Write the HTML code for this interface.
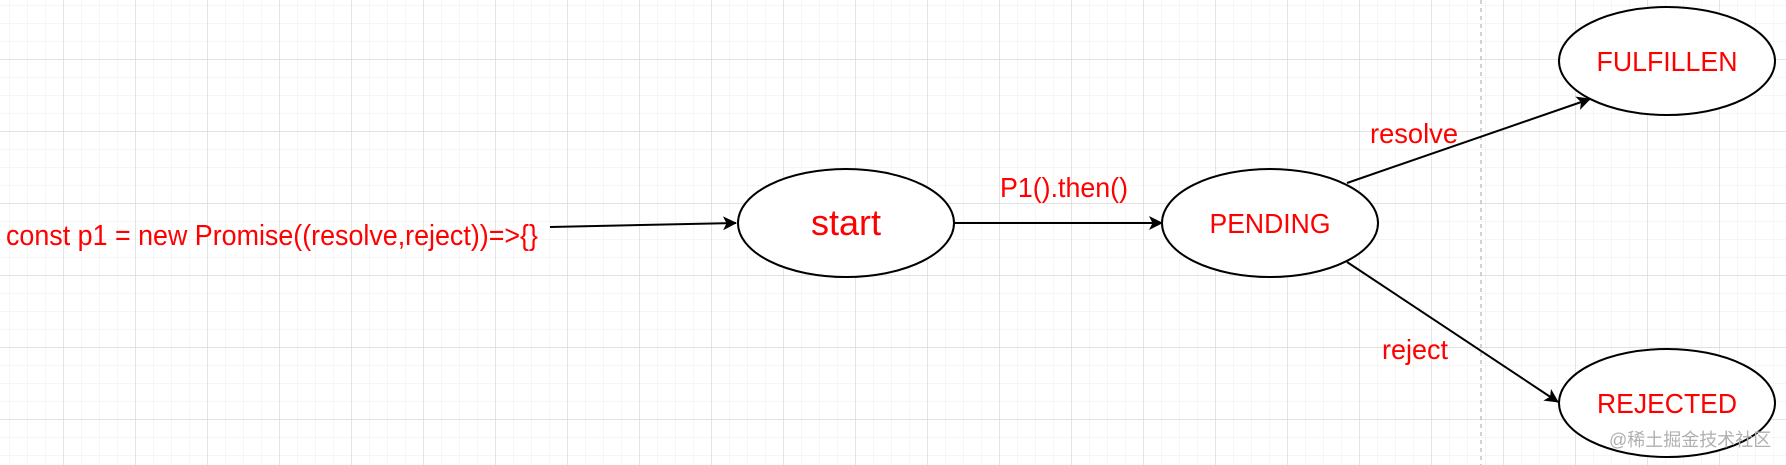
<!DOCTYPE html>
<html><head><meta charset="utf-8"><style>
html,body{margin:0;padding:0;background:#fff;}
svg{display:block;}
text{font-family:"Liberation Sans",Arial,sans-serif;fill:#ff0000;}
</style></head><body>
<svg width="1786" height="465" viewBox="0 0 1786 465" xmlns="http://www.w3.org/2000/svg">
<defs>
<pattern id="minor" x="9" y="5" width="18" height="18" patternUnits="userSpaceOnUse">
<path d="M0 0V18M0 0H18" stroke="#f0f0f0" stroke-width="1.2" fill="none"/>
</pattern>
<pattern id="major" x="63" y="59" width="72" height="72" patternUnits="userSpaceOnUse">
<path d="M0 0V72M0 0H72" stroke="#d4d4d4" stroke-width="1.2" fill="none"/>
</pattern>
<marker id="ar" viewBox="0 0 14 14" refX="13" refY="7" markerWidth="14" markerHeight="14" markerUnits="userSpaceOnUse" orient="auto">
<path d="M0 0L14 7L0 14L3.5 7Z" fill="#000"/>
</marker>
</defs>
<rect width="1786" height="465" fill="#fff"/>
<rect width="1786" height="465" fill="url(#minor)"/>
<rect width="1786" height="465" fill="url(#major)"/>
<line x1="1481" y1="0" x2="1481" y2="465" stroke="#b5b5b5" stroke-width="1.2" stroke-dasharray="4 4"/>

<g stroke="#000" stroke-width="2" fill="none">
<line x1="550" y1="227" x2="736" y2="223" marker-end="url(#ar)"/>
<line x1="954" y1="223" x2="1162" y2="223" marker-end="url(#ar)"/>
<line x1="1347" y1="183" x2="1590" y2="99" marker-end="url(#ar)"/>
<line x1="1347" y1="262" x2="1558" y2="402" marker-end="url(#ar)"/>
</g>

<g stroke="#000" stroke-width="2" fill="#fff">
<ellipse cx="846" cy="223" rx="108" ry="54"/>
<ellipse cx="1270" cy="223" rx="108" ry="54"/>
<ellipse cx="1667" cy="61" rx="108" ry="54"/>
<ellipse cx="1667" cy="403" rx="108" ry="54"/>
</g>

<text x="6" y="245" font-size="29" textLength="532" lengthAdjust="spacingAndGlyphs">const p1 = new Promise((resolve,reject))=&gt;{}</text>
<text x="846" y="235" font-size="36" text-anchor="middle">start</text>
<text x="1270" y="233" font-size="28" text-anchor="middle" textLength="121" lengthAdjust="spacingAndGlyphs">PENDING</text>
<text x="1667" y="71" font-size="28" text-anchor="middle" textLength="141" lengthAdjust="spacingAndGlyphs">FULFILLEN</text>
<text x="1667" y="413" font-size="28" text-anchor="middle" textLength="140" lengthAdjust="spacingAndGlyphs">REJECTED</text>
<text x="1000" y="197" font-size="28" textLength="128" lengthAdjust="spacingAndGlyphs">P1().then()</text>
<text x="1370" y="143" font-size="28" textLength="88" lengthAdjust="spacingAndGlyphs">resolve</text>
<text x="1382" y="359" font-size="28" textLength="66" lengthAdjust="spacingAndGlyphs">reject</text>
<text x="1609" y="446" font-size="18" style="fill:#b0b0b0;font-family:'Liberation Sans','Noto Sans CJK SC',sans-serif">@稀土掘金技术社区</text>
</svg>
</body></html>
